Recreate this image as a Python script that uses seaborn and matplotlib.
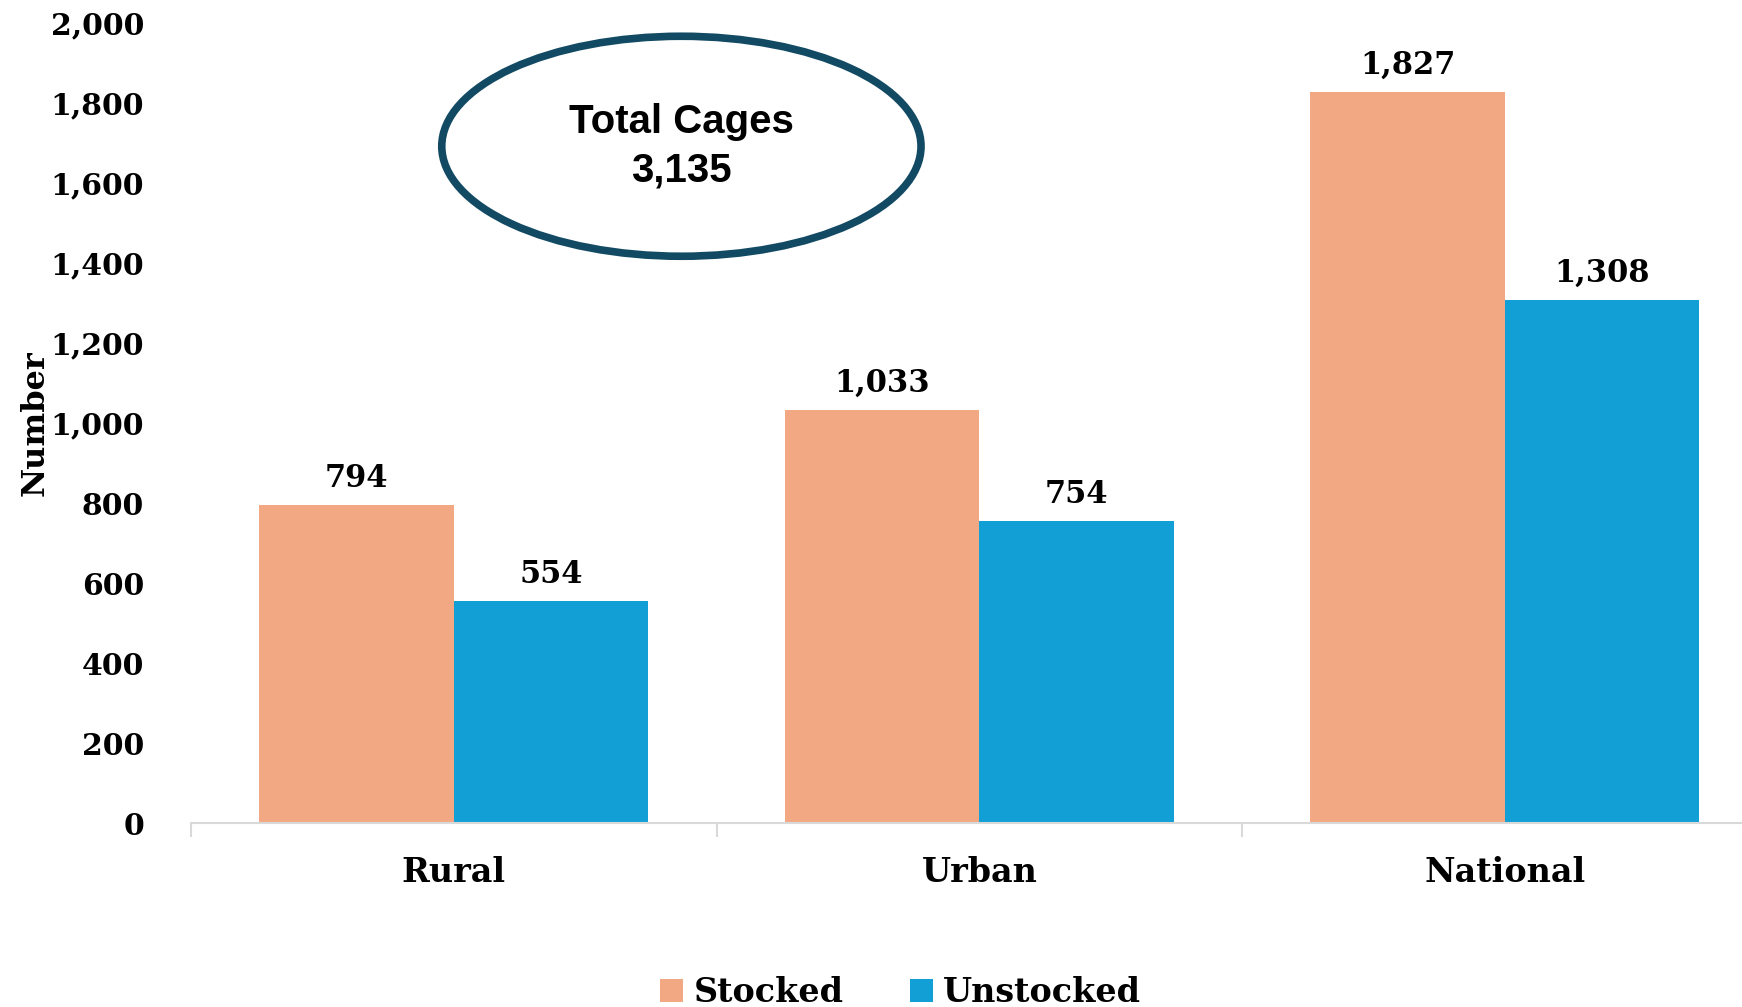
import pandas as pd
import matplotlib
matplotlib.use('Agg')
import matplotlib.pyplot as plt
from matplotlib.patches import Ellipse
import seaborn as sns

# 데이터
areas = ['Rural', 'Urban', 'National']
stocked = [794, 1033, 1827]
unstocked = [554, 754, 1308]
total_cages = '3,135'

df = pd.DataFrame({
    'Area': areas * 2,
    'Status': ['Stocked'] * 3 + ['Unstocked'] * 3,
    'Number': stocked + unstocked,
})

sns.set_style('white')
plt.rcParams['font.family'] = ['DejaVu Serif']
plt.rcParams['font.weight'] = 'bold'
plt.rcParams['text.color'] = 'black'
plt.rcParams['xtick.color'] = 'black'
plt.rcParams['ytick.color'] = 'black'
plt.rcParams['axes.labelcolor'] = 'black'

fig = plt.figure(figsize=(17.42, 10.07), dpi=100)
ax = fig.add_axes([0.1097, 0.1827, 0.905, 0.7944])

colors = {'Stocked': '#F2A983', 'Unstocked': '#119FD6'}
sns.barplot(data=df, x='Area', y='Number', hue='Status', palette=colors,
            width=0.74, gap=0, saturation=1, linewidth=0, ax=ax, legend=True)

for c in ax.containers:
    ax.bar_label(c, labels=[f'{v:,.0f}' for v in c.datavalues],
                 padding=8, fontsize=22, fontweight='bold', color='black')

ax.set_xlim(-0.5, 2.5)
ax.set_ylim(0, 2000)
ax.set_yticks(range(0, 2001, 200))
ax.set_yticklabels([f'{v:,}' for v in range(0, 2001, 200)], fontsize=21.5, fontweight='bold')
ax.set_xticks(range(3))
ax.set_xticklabels(areas, fontsize=24, fontweight='bold')
ax.tick_params(axis='x', which='major', length=0, pad=24)
ax.tick_params(axis='y', length=0, pad=34)
ax.set_xticks([-0.5, 0.5, 1.5, 2.5], minor=True)
ax.tick_params(axis='x', which='minor', bottom=True, length=10, color='#D9D9D9', width=1.5)
ax.set_xlabel('')
ax.set_ylabel('Number', fontsize=23, fontweight='bold', labelpad=0)

for s in ['top', 'right', 'left']:
    ax.spines[s].set_visible(False)
ax.spines['bottom'].set_color('#D9D9D9')
ax.spines['bottom'].set_linewidth(1.5)

# 타원 + 총 케이지 수
ell = Ellipse((0.433, 1692), width=0.912, height=550, facecolor='none',
              edgecolor='#134A63', linewidth=5.5, clip_on=False)
ax.add_patch(ell)
ax.text(0.433, 1692, 'Total Cages\n' + total_cages, ha='center', va='center',
        fontsize=29, fontweight='bold', linespacing=1.35,
        family=['Liberation Sans Narrow', 'Liberation Sans', 'DejaVu Sans'])

# 범례
handles, labels = ax.get_legend_handles_labels()
ax.get_legend().remove()
fig.legend(handles, labels, loc='lower center', bbox_to_anchor=(0.517, -0.032),
           ncol=2, frameon=False, fontsize=24, handlelength=0.7, handleheight=0.7,
           handletextpad=0.3, columnspacing=2)

fig.savefig('out.png', dpi=100)
